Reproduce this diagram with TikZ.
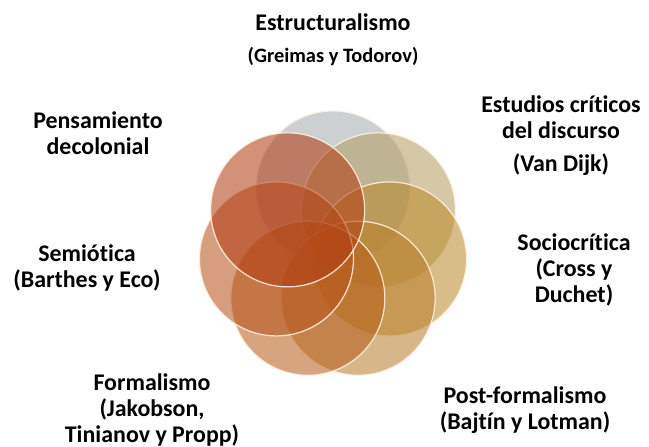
\documentclass[tikz,border=0pt]{standalone}
\usepackage{fontspec}
\usetikzlibrary{calc}
\setmainfont[Ligatures=NoCommon]{Carlito}
\begin{document}
\begin{tikzpicture}[x=1bp,y=-1bp,
  petal/.style={fill=#1,fill opacity=0.56,draw=white!88!orange,line width=1.2bp,draw opacity=0.9},
  lbl/.style={font=\bfseries\fontsize{24}{26}\selectfont,align=center,text=black,inner sep=0pt},
  sublbl/.style={font=\bfseries\fontsize{20.5}{24}\selectfont,align=center,text=black,inner sep=0pt}]
\useasboundingbox (0,0) rectangle (649,447);
\definecolor{cTop}{RGB}{164,171,177}
\definecolor{cUR}{RGB}{180,157,97}
\definecolor{cR}{RGB}{186,138,44}
\definecolor{cBR}{RGB}{184,126,44}
\definecolor{cBL}{RGB}{182,92,26}
\definecolor{cL}{RGB}{182,82,26}
\definecolor{cUL}{RGB}{178,58,18}
\coordinate (ctr) at (333,246);
\foreach \a/\c in {90/cTop,38.57/cUR,-12.86/cR,-64.29/cBR,-115.71/cBL,-167.14/cL,-218.57/cUL}{
  \path[petal=\c] ($(ctr)+(\a:58 and -58)$) circle[radius=77];
}
\node[lbl] (estr) at (333,22) {Estructuralismo};
\node[sublbl] (estrs) at (333,57) {(Greimas y Todorov)};
\node[lbl] (pens) at (98,133) {Pensamiento\\decolonial};
\node[lbl] (estu) at (561,117) {Estudios críticos\\del discurso};
\node[lbl] (vand) at (561,165) {(Van Dijk)};
\node[lbl] (soci) at (574,270) {Sociocrítica\\(Cross y\\Duchet)};
\node[lbl] (semi) at (87,268) {Semiótica\\(Barthes y Eco)};
\node[lbl] (form) at (152,410) {Formalismo\\(Jakobson,\\Tinianov y Propp)};
\node[lbl] (post) at (525,410) {Post-formalismo\\(Bajtín y Lotman)};
\end{tikzpicture}
\end{document}
